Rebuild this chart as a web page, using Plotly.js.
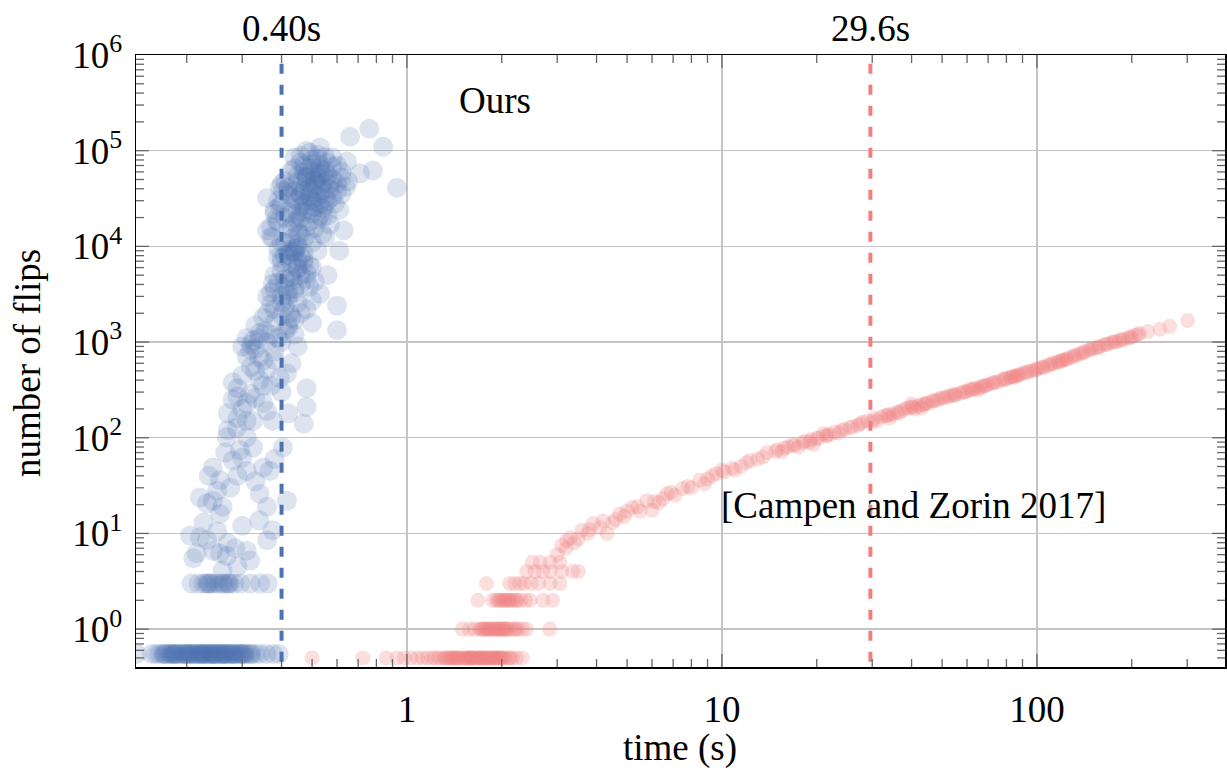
<!DOCTYPE html>
<html>
<head>
<meta charset="utf-8">
<script src="https://cdn.plot.ly/plotly-3.0.1.min.js"></script>
<style>html,body{margin:0;padding:0;background:#fff;}#chart{width:1227px;height:774px;}</style>
</head>
<body>
<div id="chart"></div>
<script>
// ---- Ours (blue) : zero-flip row ----
const oursZeroX = [0.139,0.155,0.160,0.164,0.168,0.171,0.174,0.177,0.180,0.183,0.186,0.189,0.192,0.195,0.198,0.201,0.204,0.207,0.210,0.213,0.216,0.219,0.222,0.225,0.228,0.231,0.234,0.237,0.240,0.244,0.248,0.252,0.256,0.260,0.264,0.268,0.272,0.277,0.282,0.287,0.293,0.299,0.306,0.313,0.321,0.330,0.342,0.358,0.376,0.392,0.185,0.205,0.225,0.245,0.262,0.280,0.300,0.318,
 0.170,0.182,0.196,0.212,0.229,0.238,0.250,0.266,0.285,0.304,0.178,0.200,0.220,0.242,0.258,0.276,0.295];
const oursZeroY = oursZeroX.map(() => 0.55);
// ---- Ours (blue) : remaining points ----
const oursX = [
 0.207,0.218,0.226,0.231,0.236,0.240,0.246,0.252,0.258,0.262,0.268,0.274,0.283,0.296,0.318,0.342,0.362,0.234,0.272,
 0.260,0.215,0.242,0.255,0.310,0.318,0.220,0.205,0.232,0.270,0.285,0.250,0.340,0.375,0.300,0.226,0.210,0.268,0.290,0.360,
 0.232,0.255,0.220,0.242,0.260,0.242,0.255,0.268,0.288,0.300,0.280,0.350,0.367,0.341,0.360,0.416,0.310,0.325,0.295,0.404,0.275,0.290,0.330,0.250,0.310,0.265,0.380,0.235,
 0.318,0.341,0.325,0.360,0.375,0.480,0.470,0.416,0.350,0.480,0.300,0.280,0.330,0.380,0.400,0.430,0.290,0.450,0.370,0.310,0.360,0.270,0.420,0.395,
 0.270,0.290,0.310,0.330,0.350,0.300,0.320,0.340,0.280,0.360,0.380,0.330,0.310,0.290,0.350,0.370,0.400,0.420,0.340,0.320,
 0.325,0.341,0.318,0.425,0.500,0.600,0.600,0.530,0.435,0.375,0.390,0.300,0.310,0.330,0.350,0.370,0.400,0.420,0.450,0.480,0.380,0.410,0.440,0.460,0.500,0.430,0.400,0.360,0.470,0.520,0.440,0.560,0.490,0.410,0.355,0.390,0.420,0.380,0.450,0.510,
 0.400,0.420,0.440,0.460,0.430,0.450,0.470,0.410,0.390,0.480,0.500,0.440,0.420,0.460,0.380,0.360,0.400,0.430,0.450,0.490,
 0.380,0.400,0.420,0.440,0.390,0.410,0.430,0.450,0.470,0.370,0.400,0.420,0.440,0.460,0.480,0.410,0.430,
 0.375,0.360,0.610,0.630,0.540,0.457,0.360,0.395,0.480,0.530,0.660,0.760,0.840,0.930,0.780,0.710,0.645,0.580,
 0.420,0.440,0.460,0.480,0.500,0.520,0.540,0.560,0.430,0.450,0.470,0.490,0.510,0.530,0.550,0.570,0.440,0.460,0.480,0.500,0.520,0.540,0.560,0.450,0.470,0.490,0.510,0.530,0.550,0.580,0.600,0.620,0.590,0.570,0.410,0.400,0.420,0.410,0.430,0.460,0.500,0.440,0.520,0.620,0.650,0.600,0.470,0.500,0.450,0.430,0.550,0.490,0.460,0.510,0.480,0.530,0.450,0.500,0.470,0.390,0.400,0.380,
 0.430,0.450,0.470,0.490,0.510,0.530,0.550,0.440,0.460,0.480,0.500,0.520,0.540,0.560,0.420,0.450,0.480,0.510,0.540,0.570,0.440,0.470,0.500,0.530,0.560,0.460,0.490,0.520,0.550,0.580,0.430,0.460,0.490,0.520,0.550,0.470,0.500,0.530,0.450,0.480,0.510,0.540,0.600,0.620,0.640,0.580,0.610,0.440,0.410,0.420,
 0.370,0.380,0.390,0.400,0.370,0.385,0.395,0.405
];
const oursY = [
 3,3,3,3,3,3,3,3,3,3,3,3,3,3,3,3,3,3,3,
 4.1,6.2,6.6,6.2,6.6,5.2,9.1,9.5,8.5,8.0,7.0,10.5,13.7,10.8,12,13,5.5,5.8,4.5,8.5,
 20.6,16,23.8,22,19,49,36,101,127,62,58,49,45,26,19,22,101,79,74,79,30,40,35,28,45,70,60,40,
 290,400,150,190,150,330,140,470,640,210,200,250,500,800,300,600,330,900,350,700,1000,180,180,420,
 120,160,230,260,350,450,550,700,380,520,650,850,150,270,230,1200,1000,1400,1100,950,
 1040,1240,830,2000,1580,1330,2400,3200,4400,4100,7700,900,1100,1500,1800,2500,3000,3500,2600,2200,1600,1300,1700,5000,6000,6500,5500,3000,8500,9000,9500,5000,3800,2300,1300,1100,8200,5000,7000,4300,
 1900,2800,3300,4000,4800,6000,7200,8000,9500,5200,2700,1200,1500,2000,3600,2000,6800,8800,9800,6300,
 2200,2600,3100,3600,4200,4600,5300,5800,6600,3300,7500,9200,8600,7800,4500,3800,1800,
 12400,14700,9000,14700,13500,13500,32000,41000,100000,108000,140000,170000,110000,41000,62000,58000,77000,85000,
 15000,18000,20000,16000,22000,19000,25000,21000,25000,30000,27000,33000,29000,36000,32000,40000,38000,42000,47000,40000,52000,45000,55000,55000,60000,65000,58000,70000,62000,50000,45000,35000,28000,17000,20000,28000,35000,48000,62000,75000,80000,85000,90000,60000,48000,70000,12000,11000,10500,12000,12500,24000,34000,44000,53000,28000,22000,30000,38000,18000,11000,24000,
 16000,19000,23000,18000,26000,21000,27000,31000,35000,29000,37000,33000,39000,30000,42000,47000,52000,49000,57000,45000,65000,70000,72000,66000,75000,88000,95000,82000,86000,68000,22000,26000,40000,44000,48000,54000,61000,57000,14000,13000,15500,20000,38000,52000,42000,33000,24000,9000,11000,40000,
 16000,22000,30000,45000,12500,19000,26000,38000
];
// ---- Campen and Zorin 2017 (red) ----
const czZeroX = [0.50,0.725,0.86,0.93,0.98,1.03,1.08,1.12,1.16,1.20,1.23,1.26,1.29,1.32,1.35,1.38,1.41,1.44,1.47,1.50,1.53,1.56,1.59,1.62,1.65,1.68,1.71,1.74,1.77,1.80,1.84,1.88,1.92,1.96,2.00,2.05,2.10,2.16,2.23,2.32,1.45,1.55,1.65,1.75,1.85,1.95,1.40,1.60,1.70,1.90,
 1.33,1.43,1.52,1.61,1.72,1.82,1.91,2.02,1.37,1.58,1.79,1.98,2.12];
const czZeroY = czZeroX.map(() => 0.5);
const czX = [
 1.50,1.58,1.64,1.70,1.74,1.78,1.82,1.86,1.90,1.94,1.98,2.02,2.06,2.10,2.15,2.20,2.26,2.33,2.40,2.84,1.80,1.92,2.04,1.76,1.72,1.84,1.96,2.08,2.22,1.88,2.00,
 1.68,1.87,1.92,1.97,2.02,2.07,2.12,2.18,2.24,2.30,2.38,2.46,2.70,2.90,2.00,2.15,1.95,2.05,2.22,2.10,
 1.79,2.12,2.20,2.28,2.36,2.48,2.62,2.85,3.06,
 2.40,2.55,2.70,2.85,3.10,3.50,
 2.50,2.65,2.85,3.06,
 3.0,3.2,3.36,3.22,3.4,3.59,3.75,3.9,4.1,4.32,4.5,4.74,4.9,5.2,5.5,5.78,6.0,6.3,6.7,7.1,7.5,8.0,8.5,9.0,9.6,10.2,10.8,11.5,12.3,13.0,13.9,14.8,15.8,16.8,17.5,18.3,19.2,20.3,21.5,22.8,24.0,25.5,27.0,29.0,30.5,32.0,34.0,36.0,38.0,40.0,42.0,44.0,46.5,49.0,52.0,55.0,58.0,61.0,64.0,67.0,70.0,74.0,78.0,82.0,86.0,90.0,95.0,100,105,110,116,122,128,135,142,150,158,168,178,188,200,212,246,264,301,
 11,12,13.5,15,16.2,18,20,21,23.5,26,28,31,33,35,37,39,41,43,45,48,50,53,57,60,63,66,69,72,76,80,84,88,92,97,102,108,113,119,125,131,138,146,154,163,173,183,195,205,15.5,22,40,55,85,120,19.5,34,43,65,
 17,19,21.5,24.5,27.5,30,33.5,36.5,40.5,44.5,47,51,54,59,62,68,73,79,83,87,93,99,104,111,117,124,132,140,148,157,166,176,186,197,209,225,
 3.1,3.3,3.5,3.8,4.2,4.6,5.0,5.4,6.1,6.5,6.9,7.8,8.8,9.3,10.0
];
const czY = [
 1,1,1,1,1,1,1,1,1,1,1,1,1,1,1,1,1,1,1,1,1,1,1,1,1,1,1,1,1,1,1,
 2,2,2,2,2,2,2,2,2,2,2,2,2,2,2,2,2,2,2,2,
 3,3,3,3,3,3,3,3,3,
 4,4,4,4,4,4,
 5,5,5,5,
 6,7,4,8.4,8,10.8,10,12.7,11.5,10,13,16,15,18.7,17,22,17.5,21,26,25,29.5,30,36,37,42,44,48,50,58,60,70,72,78,85,80,92,96,100,105,115,120,128,135,150,160,165,175,185,200,210,215,225,240,255,270,285,300,320,330,345,360,380,405,425,445,470,495,520,550,580,620,650,690,740,790,850,900,960,1010,1070,1130,1230,1360,1460,1680,
 46,55,63,75,80,88,98,110,112,130,145,150,170,175,190,205,200,222,230,245,262,272,290,305,325,335,350,372,390,415,440,455,480,505,535,565,600,630,670,710,760,820,870,930,990,1040,1100,1180,72,108,225,278,430,645,85,160,205,315,
 83,90,106,122,140,148,172,182,210,228,244,262,280,300,318,352,378,410,432,452,485,515,545,590,615,665,720,775,840,880,950,1010,1060,1120,1200,1290,
 7.5,9,8.8,11,13.5,14,17,19,21.5,23,27,31,33,40,46
];
// ---- median markers and tick labels ----
const oursMedian = 0.40;
const czMedian = 29.6;
const xTickVals = [1, 10, 100];
const xTickText = ['1', '10', '100'];
const yTickVals = [1, 10, 100, 1000, 10000, 100000, 1000000];
const yTickText = ['10<sup>0</sup>','10<sup>1</sup>','10<sup>2</sup>','10<sup>3</sup>','10<sup>4</sup>','10<sup>5</sup>','10<sup>6</sup>'];

const BLUE = 'rgb(76,114,176)';
const RED = 'rgb(240,128,128)';
const FONT = 'Liberation Serif, DejaVu Serif, serif';
const FS = 37;
const XR = [-0.860, 2.597];
const YR = [-0.396, 6];
const PLOT_W = 1089, PLOT_H = 612;

// ---- tick marks (inside, mirrored on all four sides) drawn as shapes ----
const TICKC = '#666666';
const shapes = [];
function xFrac(v) { return (Math.log10(v) - XR[0]) / (XR[1] - XR[0]); }
function yFrac(v) { return (Math.log10(v) - YR[0]) / (YR[1] - YR[0]); }
for (let k = -1; k <= 2; k++) {
  for (let m = 1; m <= 9; m++) {
    const f = xFrac(m * Math.pow(10, k));
    if (f <= 0.001 || f >= 0.999) continue;
    const len = (m === 1 ? 13 : 8) / PLOT_H;
    shapes.push({type: 'line', xref: 'paper', yref: 'paper', x0: f, x1: f, y0: 0, y1: len, line: {color: TICKC, width: 1.3}});
    shapes.push({type: 'line', xref: 'paper', yref: 'paper', x0: f, x1: f, y0: 1, y1: 1 - len, line: {color: TICKC, width: 1.3}});
  }
}
for (let k = -1; k <= 6; k++) {
  for (let m = 1; m <= 9; m++) {
    const f = yFrac(m * Math.pow(10, k));
    if (f <= 0.001 || f >= 0.999) continue;
    const len = (m === 1 ? 13 : 8) / PLOT_W;
    shapes.push({type: 'line', xref: 'paper', yref: 'paper', y0: f, y1: f, x0: 0, x1: len, line: {color: TICKC, width: 1.3}});
    shapes.push({type: 'line', xref: 'paper', yref: 'paper', y0: f, y1: f, x0: 1, x1: 1 - len, line: {color: TICKC, width: 1.3}});
  }
}

const traces = [
  {x: oursZeroX.concat(oursX), y: oursZeroY.concat(oursY), type: 'scatter', mode: 'markers',
   marker: {size: 20, color: 'rgba(76,114,176,0.19)', line: {width: 0}}, hoverinfo: 'skip', cliponaxis: true},
  {x: czZeroX.concat(czX), y: czZeroY.concat(czY), type: 'scatter', mode: 'markers',
   marker: {size: 15, color: 'rgba(240,128,128,0.25)', line: {width: 0}}, hoverinfo: 'skip', cliponaxis: true},
  {x: [oursMedian, oursMedian], y: [0.1, 1e7], type: 'scatter', mode: 'lines',
   line: {color: BLUE, width: 4, dash: '10px,11px'}, hoverinfo: 'skip'},
  {x: [czMedian, czMedian], y: [0.1, 1e7], type: 'scatter', mode: 'lines',
   line: {color: RED, width: 4, dash: '10px,11px'}, hoverinfo: 'skip'}
];

const tickFont = {family: FONT, size: FS, color: '#000'};

const layout = {
  width: 1227, height: 774,
  margin: {l: 136, r: 2, t: 55, b: 107},
  paper_bgcolor: '#fff', plot_bgcolor: '#fff',
  showlegend: false,
  font: {family: FONT, size: FS, color: '#000'},
  xaxis: {
    type: 'log', range: XR, tickmode: 'array', tickvals: xTickVals, ticktext: xTickText,
    showgrid: true, gridcolor: '#c4c4c4', gridwidth: 1.5, zeroline: false,
    showline: true, linecolor: '#000', linewidth: 1.5, mirror: true,
    ticks: 'outside', ticklen: 9, tickcolor: 'rgba(0,0,0,0)', tickfont: tickFont
  },
  yaxis: {
    type: 'log', range: YR, tickmode: 'array', tickvals: yTickVals, ticktext: yTickText,
    showgrid: true, gridcolor: '#c4c4c4', gridwidth: 1.5, zeroline: false,
    showline: true, linecolor: '#000', linewidth: 1.5, mirror: true,
    ticks: 'outside', ticklen: 5, tickcolor: 'rgba(0,0,0,0)', tickfont: tickFont
  },
  shapes: shapes,
  annotations: [
    {xref: 'x', yref: 'paper', x: Math.log10(oursMedian), y: 1.0, xanchor: 'center', yanchor: 'bottom', yshift: 4,
     text: oursMedian.toFixed(2) + 's', showarrow: false, font: tickFont},
    {xref: 'x', yref: 'paper', x: Math.log10(czMedian), y: 1.0, xanchor: 'center', yanchor: 'bottom', yshift: 4,
     text: czMedian.toFixed(1) + 's', showarrow: false, font: tickFont},
    {xref: 'paper', yref: 'paper', x: 0.3297, y: 0.926, xanchor: 'center', yanchor: 'middle', text: 'Ours', showarrow: false,
     font: tickFont},
    {xref: 'paper', yref: 'paper', x: 0.7135, y: 0.2647, xanchor: 'center', yanchor: 'middle', text: '[Campen and Zorin 2017]', showarrow: false,
     font: tickFont},
    {xref: 'paper', yref: 'paper', x: 0.4995, y: -0.132, xanchor: 'center', yanchor: 'middle', text: 'time (s)', showarrow: false,
     font: tickFont},
    {xref: 'paper', yref: 'paper', x: -0.1001, y: 0.4967, xanchor: 'center', yanchor: 'middle', textangle: -90, text: 'number of flips', showarrow: false,
     font: tickFont}
  ]
};

Plotly.newPlot('chart', traces, layout, {staticPlot: true, displayModeBar: false});
</script>
</body>
</html>
